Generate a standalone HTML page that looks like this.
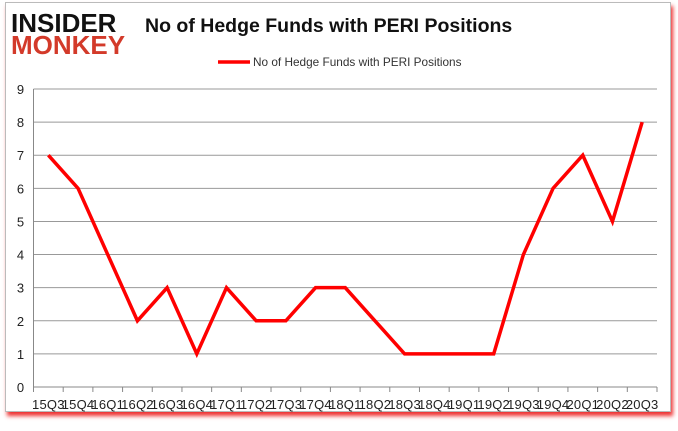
<!DOCTYPE html>
<html><head><meta charset="utf-8"><style>
body{margin:0;width:678px;height:431px;background:#fff;font-family:"Liberation Sans",sans-serif;overflow:hidden;position:relative}
#frame{position:absolute;left:5px;top:2px;width:664px;height:408px;border:1px solid #bbb;box-shadow:2px 4px 4px #e33;background:#fff}
#logo1{position:absolute;left:11px;top:8px;font:900 26px "Liberation Sans",sans-serif;letter-spacing:0px;color:#111}
#logo2{position:absolute;left:11px;top:30px;font:900 26px "Liberation Sans",sans-serif;letter-spacing:0px;color:#d33a2a}
#title{position:absolute;left:145px;top:15px;font-size:19.5px;font-weight:bold;color:#111}
</style></head><body>
<div id="frame"></div>
<div id="logo1">INSIDER</div>
<div id="logo2">MONKEY</div>
<div id="title">No of Hedge Funds with PERI Positions</div>
<svg id="c" width="678" height="431" style="position:absolute;left:0;top:0"></svg>
<script>
const categories=["15Q3","15Q4","16Q1","16Q2","16Q3","16Q4","17Q1","17Q2","17Q3","17Q4","18Q1","18Q2","18Q3","18Q4","19Q1","19Q2","19Q3","19Q4","20Q1","20Q2","20Q3"];
const values=[7,6,4,2,3,1,3,2,2,3,3,2,1,1,1,1,4,6,7,5,8];
const yTicks=[0,1,2,3,4,5,6,7,8,9];
const NS="http://www.w3.org/2000/svg";
const svg=document.getElementById('c');
const L=33.5,R=657,T=89,B=387;
const step=(R-L)/categories.length;
const x=i=>L+step*(i+0.5);
const y=v=>B-(B-T)*v/9;
function mk(t,a){const e=document.createElementNS(NS,t);for(const k in a)e.setAttribute(k,a[k]);svg.appendChild(e);return e;}
yTicks.forEach(v=>{
 const g=mk('line',{x1:L,x2:R,y1:y(v),y2:y(v),stroke:v===0?'#888':'#999','stroke-width':1});
 
 
 const t=mk('text',{x:L-13,y:y(v)+5,'text-anchor':'middle','font-size':13,fill:'#222','font-family':'Liberation Sans'});
 t.textContent=v;
 
 
});
const ax=mk('line',{x1:L,x2:L,y1:T,y2:B,stroke:'#888'});


for(let i=0;i<=categories.length;i++){
 const tk=mk('line',{x1:L+step*i,x2:L+step*i,y1:B,y2:B+5,stroke:'#888'});
 
 
}
categories.forEach((c,i)=>{
 const t=mk('text',{x:x(i),y:409,'text-anchor':'middle','font-size':13,fill:'#222','font-family':'Liberation Sans','letter-spacing':'0.2'});
 t.textContent=c;
 
 
});
const p=mk('polyline',{points:values.map((v,i)=>x(i)+','+y(v)).join(' '),fill:'none',stroke:'#f00','stroke-width':3.5,'stroke-linejoin':'miter'});


const ll=mk('line',{x1:218,x2:250,y1:62,y2:62,stroke:'#f00','stroke-width':3.5});


const lt=mk('text',{x:253,y:66,'font-size':11.8,fill:'#333','font-family':'Liberation Sans'});
lt.textContent='No of Hedge Funds with PERI Positions';


</script>
</body></html>
